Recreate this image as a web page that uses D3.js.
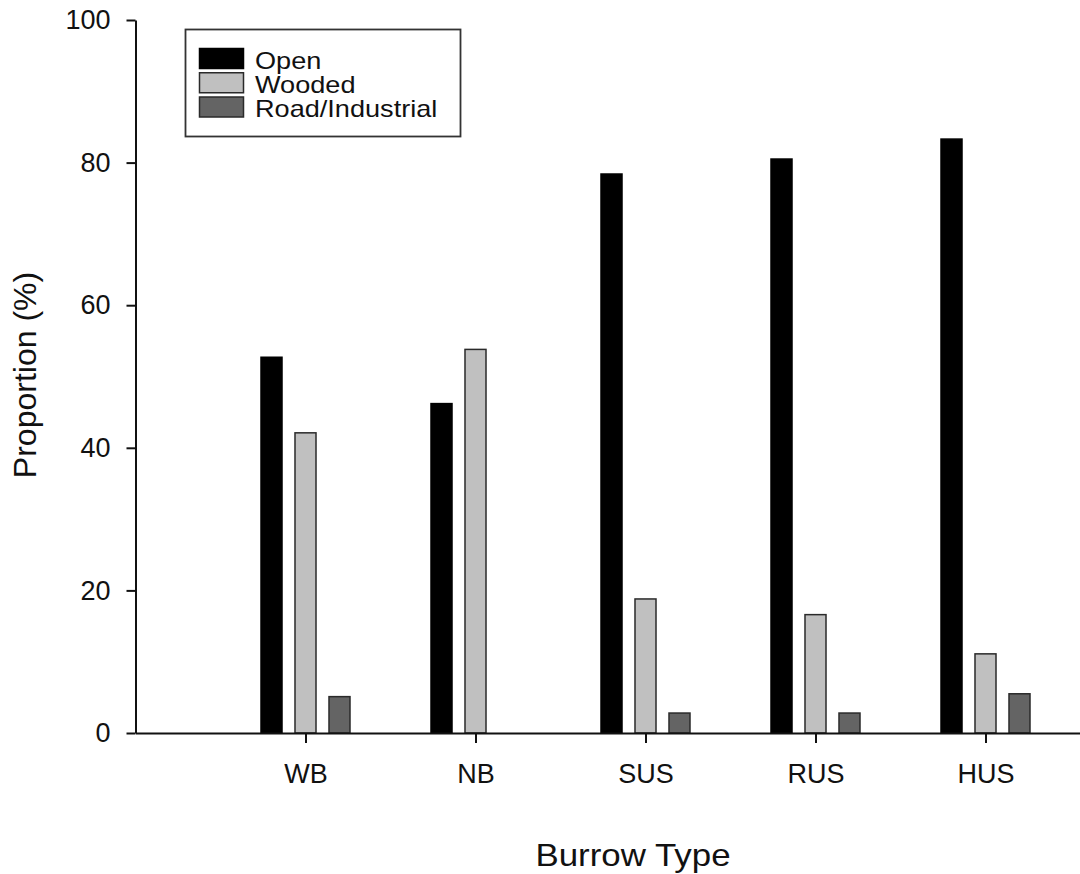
<!DOCTYPE html>
<html>
<head>
<meta charset="utf-8">
<script src="https://cdn.jsdelivr.net/npm/d3@7"></script>
<style>
  html, body { margin: 0; padding: 0; background: #fff; }
  svg { display: block; font-family: "Liberation Sans", Arial, sans-serif; }
</style>
</head>
<body>
<svg id="chart" width="1080" height="874"></svg>
<script>
// Burrow types along the x axis
const categories = ["WB", "NB", "SUS", "RUS", "HUS"];
// Land-cover classes (legend order)
const seriesNames = ["Open", "Wooded", "Road/Industrial"];
// Proportion (%) per burrow type, one array per class
const openValues   = [52.7, 46.2, 78.4, 80.5, 83.3];
const woodedValues = [42.1, 53.8, 18.8, 16.6, 11.1];
const roadValues   = [5.1, 0, 2.8, 2.8, 5.5];
const yTicks = [0, 20, 40, 60, 80, 100];

const seriesValues = [openValues, woodedValues, roadValues];
const fills = ["#000000", "#c0c0c0", "#646464"];
const strokes = ["#000000", "#2a2a2a", "#2a2a2a"];

const svg = d3.select("#chart");
const axisX0 = 135.5;   // y-axis position
const plotBottom = 733;
const plotTop = 20;

const y = d3.scaleLinear().domain([0, 100]).range([plotBottom, plotTop]);

// Categories sit one step to the right of the y axis, with the axis running past the frame
const x = d3.scalePoint().domain(categories).range([axisX0, axisX0 + 170 * 6]).padding(1);

// Position of each class inside a group
const xSub = d3.scaleBand().domain(seriesNames).range([-44.5, 44.5]).paddingInner(0.382).paddingOuter(0);

// Bars
const rows = [];
categories.forEach((c, i) => {
  seriesNames.forEach((s, j) => {
    const v = seriesValues[j][i];
    if (v > 0) rows.push({ c, s, j, v });
  });
});

svg.append("g").selectAll("rect")
  .data(rows)
  .join("rect")
  .attr("x", d => x(d.c) + xSub(d.s))
  .attr("y", d => y(d.v))
  .attr("width", xSub.bandwidth())
  .attr("height", d => y(0) - y(d.v))
  .attr("fill", d => fills[d.j])
  .attr("stroke", d => strokes[d.j])
  .attr("stroke-width", 1.5);

// Y axis
const yAxis = svg.append("g")
  .attr("transform", `translate(${axisX0},0)`)
  .call(d3.axisLeft(y).tickValues(yTicks).tickSize(9).tickPadding(16).tickSizeOuter(0));
yAxis.select(".domain").attr("stroke", "#111").attr("stroke-width", 2);
yAxis.selectAll(".tick line").attr("stroke", "#111").attr("stroke-width", 2);
yAxis.selectAll(".tick text")
  .attr("font-size", 27)
  .attr("fill", "#111")
  .attr("font-family", "Liberation Sans, Arial, sans-serif");

// X axis
const xAxis = svg.append("g")
  .attr("transform", `translate(0,${plotBottom})`)
  .call(d3.axisBottom(x).tickSize(10).tickPadding(21).tickSizeOuter(0));
xAxis.select(".domain").attr("stroke", "#111").attr("stroke-width", 2);
xAxis.selectAll(".tick line").attr("stroke", "#111").attr("stroke-width", 2);
xAxis.selectAll(".tick text")
  .attr("font-size", 27)
  .attr("fill", "#111")
  .attr("font-family", "Liberation Sans, Arial, sans-serif");

// Axis titles
svg.append("text")
  .attr("transform", "translate(36,375) rotate(-90)")
  .attr("text-anchor", "middle")
  .attr("font-size", 32)
  .attr("fill", "#111")
  .text("Proportion (%)");

svg.append("text")
  .attr("transform", "translate(633,866) scale(1.09,1)")
  .attr("text-anchor", "middle")
  .attr("font-size", 32)
  .attr("fill", "#111")
  .text("Burrow Type");

// Legend
const legend = svg.append("g");
legend.append("rect")
  .attr("x", 185.5).attr("y", 29.5)
  .attr("width", 275).attr("height", 107)
  .attr("fill", "#fff")
  .attr("stroke", "#333")
  .attr("stroke-width", 1.8);

const legendY = d3.scalePoint().domain(seriesNames).range([58.5, 107]);
const items = legend.selectAll("g.item")
  .data(seriesNames)
  .join("g")
  .attr("class", "item")
  .attr("transform", d => `translate(0,${legendY(d)})`);

items.append("rect")
  .attr("x", 199.5).attr("y", -10)
  .attr("width", 44).attr("height", 20)
  .attr("fill", (d, i) => fills[i])
  .attr("stroke", (d, i) => strokes[i])
  .attr("stroke-width", 1.5);

items.append("text")
  .attr("transform", "translate(255,10) scale(1.13,1)")
  .attr("font-size", 24)
  .attr("fill", "#111")
  .text(d => d);
</script>
</body>
</html>
